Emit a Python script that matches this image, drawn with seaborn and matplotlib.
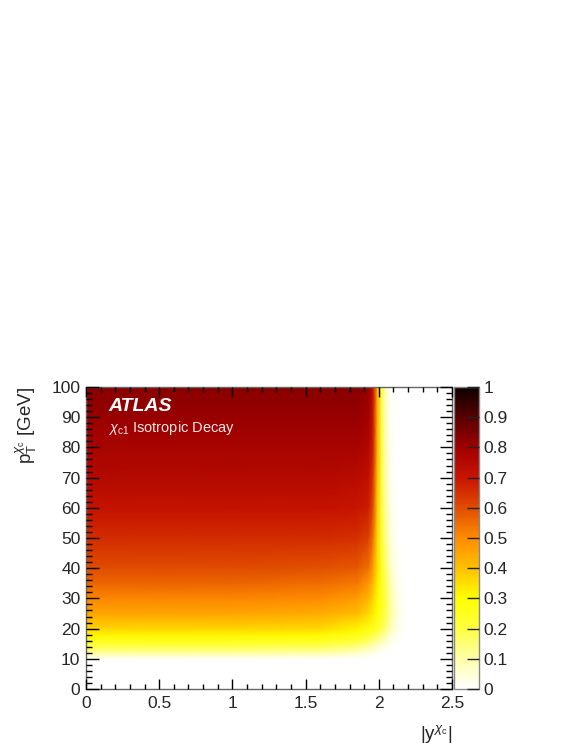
import matplotlib
matplotlib.use("Agg")
import matplotlib.pyplot as plt
from matplotlib.ticker import MultipleLocator, FuncFormatter
import numpy as np
import seaborn as sns

# acceptance map at a grid of nodes
y_nodes = [0.0, 1.0, 1.6, 1.85, 1.93, 1.96, 1.99, 2.02, 2.05, 2.09, 2.14, 2.2, 2.5]
pt_nodes = [0, 9.9, 10.5, 12, 14, 16, 18, 20, 25, 30, 35, 40, 50, 60, 70, 80, 90, 100]
acceptance = [
    [0.00, 0.00, 0.00, 0.00, 0.00, 0.00, 0.00, 0.00, 0.00, 0.00, 0.00, 0.00, 0.00],
    [0.00, 0.00, 0.00, 0.00, 0.00, 0.00, 0.00, 0.00, 0.00, 0.00, 0.00, 0.00, 0.00],
    [0.04, 0.04, 0.035, 0.02, 0.01, 0.005, 0.00, 0.00, 0.00, 0.00, 0.00, 0.00, 0.00],
    [0.11, 0.11, 0.10, 0.07, 0.04, 0.03, 0.02, 0.01, 0.00, 0.00, 0.00, 0.00, 0.00],
    [0.19, 0.19, 0.18, 0.14, 0.10, 0.08, 0.06, 0.04, 0.02, 0.005, 0.00, 0.00, 0.00],
    [0.26, 0.26, 0.25, 0.21, 0.17, 0.14, 0.12, 0.09, 0.06, 0.02, 0.005, 0.00, 0.00],
    [0.32, 0.32, 0.31, 0.27, 0.23, 0.20, 0.17, 0.14, 0.10, 0.04, 0.01, 0.00, 0.00],
    [0.37, 0.37, 0.36, 0.32, 0.28, 0.26, 0.23, 0.19, 0.14, 0.07, 0.02, 0.00, 0.00],
    [0.45, 0.45, 0.44, 0.41, 0.36, 0.33, 0.29, 0.24, 0.18, 0.09, 0.025, 0.00, 0.00],
    [0.51, 0.51, 0.50, 0.47, 0.42, 0.37, 0.31, 0.25, 0.18, 0.08, 0.02, 0.00, 0.00],
    [0.56, 0.56, 0.55, 0.53, 0.48, 0.42, 0.33, 0.25, 0.17, 0.07, 0.015, 0.00, 0.00],
    [0.60, 0.60, 0.59, 0.58, 0.54, 0.47, 0.35, 0.25, 0.15, 0.05, 0.01, 0.00, 0.00],
    [0.66, 0.66, 0.66, 0.65, 0.62, 0.54, 0.36, 0.22, 0.12, 0.03, 0.00, 0.00, 0.00],
    [0.71, 0.71, 0.71, 0.70, 0.68, 0.60, 0.38, 0.21, 0.10, 0.02, 0.00, 0.00, 0.00],
    [0.75, 0.75, 0.75, 0.74, 0.72, 0.64, 0.40, 0.20, 0.08, 0.01, 0.00, 0.00, 0.00],
    [0.78, 0.78, 0.78, 0.78, 0.76, 0.68, 0.42, 0.20, 0.07, 0.01, 0.00, 0.00, 0.00],
    [0.81, 0.81, 0.81, 0.81, 0.79, 0.70, 0.43, 0.19, 0.06, 0.005, 0.00, 0.00, 0.00],
    [0.83, 0.83, 0.83, 0.83, 0.81, 0.72, 0.44, 0.19, 0.06, 0.005, 0.00, 0.00, 0.00],
]

# colour stops at 0, 0.1, ..., 1 (ROOT dark body radiator look)
cmap_colors = ["#ffffff", "#ffffa8", "#ffff40", "#ffff00", "#ffc000", "#ff8c00",
               "#e04c00", "#c81400", "#a00000", "#580000", "#0e0000"]
cbar_ticks = [0, 0.1, 0.2, 0.3, 0.4, 0.5, 0.6, 0.7, 0.8, 0.9, 1]

sns.set_theme(style="ticks")
plt.rcParams["font.family"] = ["Liberation Sans", "DejaVu Sans"]
plt.rcParams["mathtext.fontset"] = "custom"
plt.rcParams["mathtext.rm"] = "Liberation Sans"
plt.rcParams["mathtext.it"] = "Liberation Sans:italic"
plt.rcParams["axes.edgecolor"] = "#666666"
plt.rcParams["axes.linewidth"] = 1.0


def plain(v, pos=None):
    return f"{v:g}"


cmap = sns.blend_palette(cmap_colors, as_cmap=True)

fig = plt.figure(figsize=(5.81, 7.52), dpi=100)
ax = fig.add_axes([86 / 581, 63 / 752, 366 / 581, 302 / 752])
cax = fig.add_axes([454 / 581, 63 / 752, 25 / 581, 302 / 752])

yy, pp = np.meshgrid(y_nodes, pt_nodes)
mesh = ax.pcolormesh(yy, pp, np.array(acceptance), cmap=cmap, vmin=0, vmax=1,
                     shading="gouraud", rasterized=True)

ax.set_axisbelow(False)
ax.set_xlim(0, 2.5)
ax.set_ylim(0, 100)
ax.xaxis.set_major_locator(MultipleLocator(0.5))
ax.xaxis.set_minor_locator(MultipleLocator(0.1))
ax.yaxis.set_major_locator(MultipleLocator(10))
ax.yaxis.set_minor_locator(MultipleLocator(2))
ax.xaxis.set_major_formatter(FuncFormatter(plain))
ax.tick_params(axis="both", which="both", direction="in", top=True, right=True,
               color="black", labelsize=12.5, width=1.0)
ax.tick_params(axis="x", which="major", length=7, pad=5)
ax.tick_params(axis="x", which="minor", length=3.5)
ax.tick_params(axis="y", which="major", length=9, pad=4)
ax.tick_params(axis="y", which="minor", length=4.5)

ax.set_ylabel(r"$\mathrm{p}_{\mathrm{T}}^{\chi_{\mathrm{c}}}$ [GeV]", fontsize=13.5,
              loc="top", labelpad=9)
ax.set_xlabel(r"$|\mathrm{y}^{\chi_{\mathrm{c}}}|$", fontsize=13.5, loc="right",
              labelpad=9)

ax.text(0.06, 0.965, "ATLAS", transform=ax.transAxes, color="white",
        fontsize=14, fontweight="bold", fontstyle="italic", va="top", ha="left")
ax.text(0.06, 0.895, r"$\chi_{\mathrm{c1}}$ Isotropic Decay", transform=ax.transAxes,
        color="#f6e6e6", fontsize=10.5, va="top", ha="left")

cb = fig.colorbar(mesh, cax=cax)
cb.outline.set_edgecolor("#888888")
cb.set_ticks(cbar_ticks)
cb.set_ticklabels([plain(t) for t in cbar_ticks])
cax.set_axisbelow(False)
cax.tick_params(direction="in", length=9, width=1.0, color="#222222",
                labelsize=12.5, pad=3)
cb.solids.set_rasterized(True)

fig.savefig("out.png", dpi=100, facecolor="white")
